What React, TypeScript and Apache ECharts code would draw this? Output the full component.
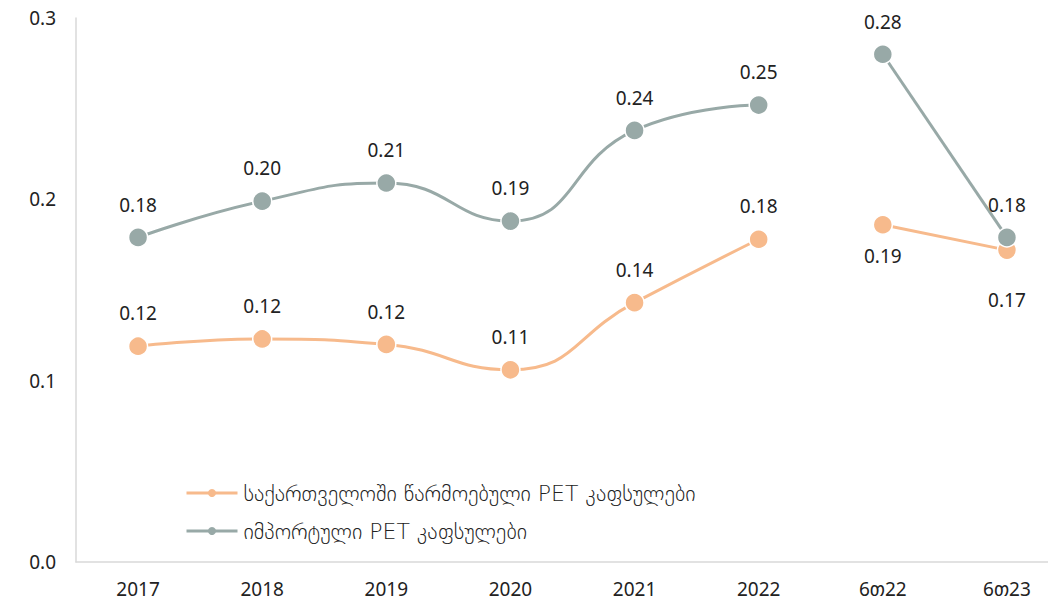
import React, { useEffect, useRef } from "react";
import * as echarts from "echarts";

const categories = ["2017", "2018", "2019", "2020", "2021", "2022", "6თ22", "6თ23"];
const localName = "საქართველოში წარმოებული PET კაფსულები";
const importName = "იმპორტული PET კაფსულები";
// annual values 2017-2022, then half-year values (6თ22, 6თ23)
const localAnnual = [0.119, 0.123, 0.12, 0.106, 0.143, 0.178];
const localHalf = [0.186, 0.172];
const importAnnual = [0.179, 0.199, 0.209, 0.188, 0.238, 0.252];
const importHalf = [0.28, 0.179];
const yTicks = [0, 0.1, 0.2, 0.3];

const ORANGE = "#F7BA8C";
const GRAY = "#98A9A7";
const FONT = "'Noto Sans', 'DejaVu Sans', sans-serif";
const LEGEND_FONT = "'DejaVu Sans', 'Noto Sans', sans-serif";

export default function App() {
  const ref = useRef<HTMLDivElement>(null);
  useEffect(() => {
    if (!ref.current) return;
    const chart = echarts.init(ref.current, null, { renderer: "svg" });
    const pad = (arr: number[], before: number, after: number) => [
      ...Array(before).fill(null),
      ...arr,
      ...Array(after).fill(null),
    ];
    const labelBase = {
      show: true,
      position: "top",
      distance: 13,
      color: "#222",
      fontSize: 19,
      fontFamily: FONT,
      formatter: (p: any) => Number(p.value).toFixed(2),
    };
    const mk = (name: string, color: string, data: any[]) => ({
      name,
      type: "line",
      smooth: true,
      data,
      symbol: "circle",
      symbolSize: 19,
      connectNulls: false,
      lineStyle: { color, width: 3 },
      itemStyle: { color, borderColor: "#fff", borderWidth: 1.5 },
      label: labelBase,
    });
    const localHalfData = pad(localHalf, 6, 0).map((v, i) =>
      v == null
        ? null
        : {
            value: v,
            label: {
              position: "bottom",
              distance: i === 7 ? 30 : 12,
            },
          }
    );
    chart.setOption({
      animation: false,
      textStyle: { fontFamily: FONT },
      grid: { left: 76, right: 0, top: 18, bottom: 40 },
      legend: {
        orient: "vertical",
        left: 180,
        top: 477,
        itemGap: 16,
        itemWidth: 51,
        itemHeight: 10,
        itemStyle: { borderWidth: 0 },
        lineStyle: { width: 3 },
        textStyle: {
          fontSize: 22,
          fontWeight: 200,
          color: "#222",
          fontFamily: LEGEND_FONT,
          padding: [0, 0, 0, 1],
        },
        data: [localName, importName],
      },
      xAxis: {
        type: "category",
        data: categories,
        boundaryGap: true,
        axisLine: { lineStyle: { color: "#d9d9d9", width: 1.5 } },
        axisTick: { show: false },
        axisLabel: { fontSize: 19, color: "#222", margin: 17, fontFamily: FONT },
      },
      yAxis: {
        type: "value",
        min: yTicks[0],
        max: yTicks[yTicks.length - 1],
        interval: 0.1,
        splitLine: { show: false },
        axisLine: { show: true, lineStyle: { color: "#d9d9d9", width: 1.5 } },
        axisTick: { show: false },
        axisLabel: {
          fontSize: 19,
          color: "#222",
          margin: 20,
          fontFamily: FONT,
          formatter: (v: number) => v.toFixed(1),
        },
      },
      series: [
        mk(localName, ORANGE, pad(localAnnual, 0, 2)),
        mk(localName, ORANGE, localHalfData),
        mk(importName, GRAY, pad(importAnnual, 0, 2)),
        mk(importName, GRAY, pad(importHalf, 6, 0)),
      ],
    });
    return () => chart.dispose();
  }, []);
  return (
    <div
      ref={ref}
      style={{ position: "fixed", left: 0, top: 0, width: 1069, height: 602, background: "#fff" }}
    />
  );
}
